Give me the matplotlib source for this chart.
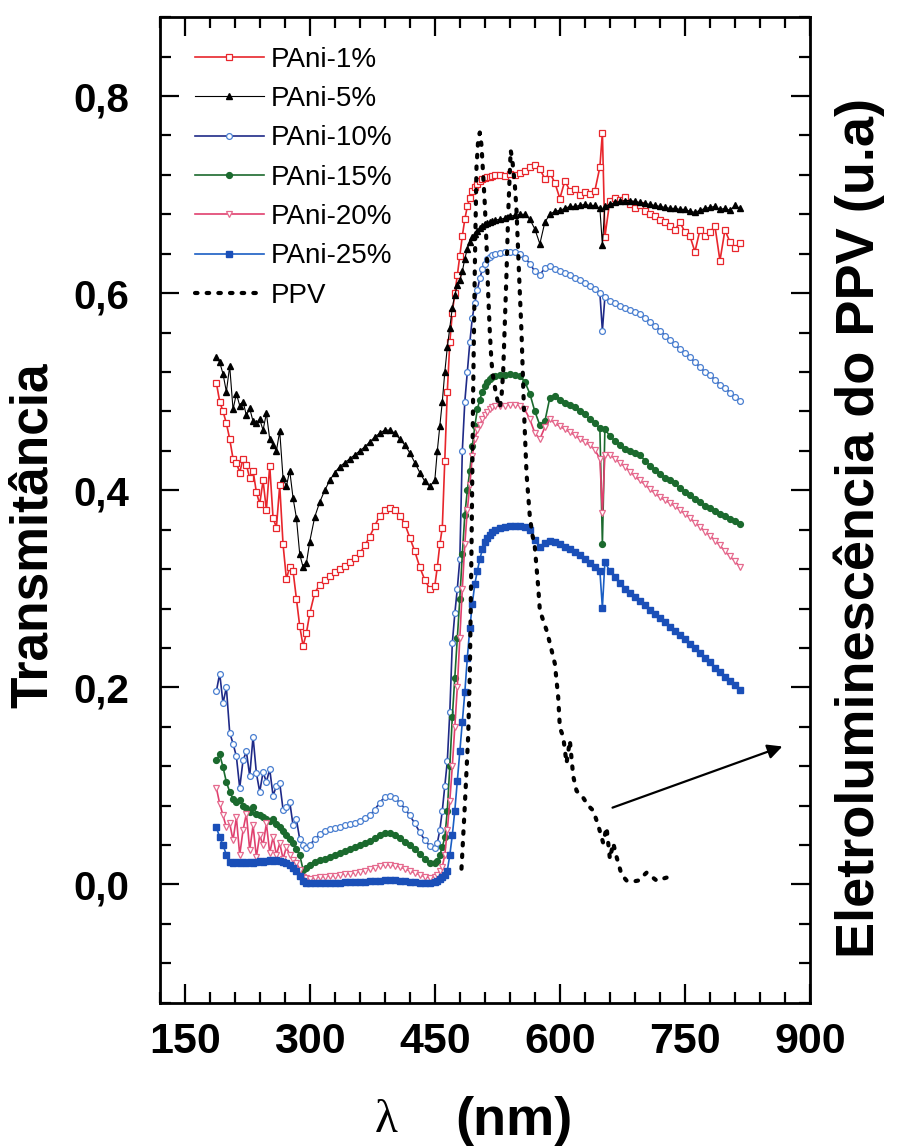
import matplotlib
matplotlib.use('Agg')
import matplotlib.pyplot as plt
from matplotlib.ticker import MultipleLocator, FuncFormatter

plt.rcParams['font.family'] = ['Liberation Sans', 'DejaVu Sans']

# comprimento de onda (nm), grade comum das amostras de PAni
wl = [188, 192, 196, 200, 204, 208, 212, 216, 220, 224, 228, 232, 236, 240,
      244, 248, 252, 256, 260, 264, 268, 272, 276, 280, 284, 288, 292, 296,
      300, 306, 312, 318, 324, 330, 336, 342, 348, 354, 360, 366, 372, 378,
      384, 390, 396, 402, 408, 414, 420, 426, 432, 438, 444, 450,
      453, 456, 459, 462, 465, 468, 471, 474, 477, 480, 483, 486, 489, 492,
      495, 498, 501, 504, 507, 510, 513, 516, 519,
      522, 528, 534, 540, 546, 552, 558, 564, 570, 576, 582, 588, 594, 600,
      606, 612, 618, 624, 630, 636, 642, 648, 651, 654, 660, 666, 672, 678,
      684, 690, 696, 702, 708, 714, 720, 726, 732, 738, 744, 750, 756, 762,
      768, 774, 780, 786, 792, 798, 804, 810, 816]

pani_1 = [0.509, 0.490, 0.480, 0.468, 0.452, 0.432, 0.428, 0.418, 0.432, 0.426, 0.412, 0.420, 0.398, 0.386,
          0.410, 0.380, 0.425, 0.372, 0.362, 0.405, 0.345, 0.310, 0.322, 0.318, 0.290, 0.262, 0.242, 0.255,
          0.275, 0.296, 0.304, 0.309, 0.313, 0.317, 0.320, 0.323, 0.327, 0.331, 0.336, 0.344, 0.353, 0.364,
          0.374, 0.380, 0.382, 0.380, 0.374, 0.366, 0.352, 0.338, 0.322, 0.309, 0.300, 0.303,
          0.322, 0.345, 0.362, 0.430, 0.500, 0.550, 0.580, 0.600, 0.618, 0.638, 0.658, 0.675, 0.688, 0.697,
          0.704, 0.708, 0.711, 0.714, 0.716, 0.717, 0.718, 0.718, 0.719,
          0.720, 0.720, 0.719, 0.721, 0.720, 0.722, 0.724, 0.728, 0.730, 0.726, 0.716, 0.722, 0.712, 0.696,
          0.714, 0.704, 0.706, 0.700, 0.703, 0.701, 0.704, 0.728, 0.763, 0.657, 0.694, 0.697, 0.695, 0.698,
          0.690, 0.686, 0.689, 0.683, 0.680, 0.678, 0.674, 0.672, 0.668, 0.664, 0.672, 0.662, 0.658, 0.642,
          0.664, 0.658, 0.662, 0.668, 0.633, 0.664, 0.652, 0.646, 0.651]

pani_5 = [0.535, 0.530, 0.518, 0.500, 0.526, 0.482, 0.498, 0.486, 0.490, 0.476, 0.483, 0.470, 0.468, 0.472,
          0.461, 0.478, 0.452, 0.446, 0.440, 0.460, 0.412, 0.404, 0.420, 0.392, 0.372, 0.335, 0.322, 0.326,
          0.348, 0.373, 0.388, 0.400, 0.410, 0.418, 0.424, 0.428, 0.432, 0.436, 0.440, 0.444, 0.449, 0.454,
          0.458, 0.461, 0.461, 0.458, 0.452, 0.446, 0.438, 0.428, 0.418, 0.409, 0.404, 0.410,
          0.440, 0.465, 0.490, 0.520, 0.545, 0.565, 0.585, 0.598, 0.608, 0.613, 0.622, 0.635, 0.645, 0.652,
          0.657, 0.660, 0.663, 0.666, 0.668, 0.670, 0.671, 0.672, 0.673,
          0.674, 0.675, 0.676, 0.678, 0.679, 0.680, 0.680, 0.675, 0.665, 0.650, 0.672, 0.680, 0.683, 0.684,
          0.686, 0.688, 0.688, 0.689, 0.690, 0.689, 0.689, 0.686, 0.649, 0.688, 0.690, 0.692, 0.693, 0.694,
          0.694, 0.693, 0.692, 0.691, 0.690, 0.689, 0.688, 0.687, 0.686, 0.686, 0.685, 0.685, 0.683, 0.682,
          0.684, 0.686, 0.687, 0.688, 0.685, 0.686, 0.684, 0.689, 0.686]

pani_10 = [0.196, 0.214, 0.184, 0.200, 0.154, 0.143, 0.130, 0.098, 0.126, 0.135, 0.110, 0.150, 0.113, 0.094,
           0.114, 0.104, 0.117, 0.090, 0.100, 0.103, 0.076, 0.079, 0.084, 0.060, 0.066, 0.046, 0.040, 0.037,
           0.040, 0.046, 0.051, 0.054, 0.056, 0.057, 0.058, 0.060, 0.061, 0.062, 0.064, 0.067, 0.070, 0.076,
           0.083, 0.089, 0.090, 0.088, 0.083, 0.077, 0.070, 0.062, 0.053, 0.045, 0.039, 0.037,
           0.042, 0.055, 0.075, 0.100, 0.125, 0.175, 0.245, 0.275, 0.300, 0.330, 0.440, 0.490, 0.520, 0.550,
           0.575, 0.590, 0.603, 0.615, 0.624, 0.630, 0.635, 0.637, 0.639,
           0.640, 0.641, 0.642, 0.642, 0.642, 0.640, 0.636, 0.630, 0.622, 0.618, 0.626, 0.628, 0.625, 0.622,
           0.620, 0.618, 0.615, 0.613, 0.610, 0.607, 0.604, 0.600, 0.562, 0.596, 0.592, 0.590, 0.587, 0.585,
           0.583, 0.581, 0.579, 0.575, 0.571, 0.567, 0.562, 0.557, 0.552, 0.548, 0.543, 0.539, 0.535, 0.530,
           0.525, 0.520, 0.517, 0.512, 0.507, 0.504, 0.499, 0.495, 0.491]

pani_15 = [0.126, 0.132, 0.119, 0.104, 0.094, 0.087, 0.084, 0.086, 0.080, 0.078, 0.074, 0.079, 0.072, 0.070,
           0.068, 0.066, 0.064, 0.066, 0.061, 0.058, 0.054, 0.050, 0.046, 0.042, 0.036, 0.030, 0.015, 0.017,
           0.020, 0.023, 0.025, 0.026, 0.028, 0.030, 0.032, 0.034, 0.036, 0.038, 0.040, 0.042, 0.044, 0.047,
           0.050, 0.052, 0.052, 0.050, 0.047, 0.043, 0.040, 0.036, 0.031, 0.026, 0.022, 0.022,
           0.024, 0.030, 0.038, 0.048, 0.075, 0.120, 0.170, 0.210, 0.250, 0.290, 0.335, 0.375, 0.400, 0.420,
           0.445, 0.465, 0.482, 0.492, 0.500, 0.506, 0.510, 0.513, 0.515,
           0.516, 0.517, 0.517, 0.518, 0.517, 0.516, 0.510, 0.498, 0.480, 0.466, 0.470, 0.494, 0.496, 0.492,
           0.489, 0.487, 0.484, 0.480, 0.477, 0.472, 0.468, 0.463, 0.345, 0.462, 0.455, 0.450, 0.446, 0.442,
           0.440, 0.438, 0.436, 0.430, 0.425, 0.421, 0.417, 0.412, 0.410, 0.407, 0.402, 0.398, 0.395, 0.391,
           0.388, 0.384, 0.382, 0.379, 0.376, 0.374, 0.371, 0.369, 0.366]

pani_20 = [0.098, 0.082, 0.070, 0.058, 0.062, 0.045, 0.068, 0.030, 0.055, 0.072, 0.035, 0.060, 0.028, 0.050,
           0.040, 0.062, 0.032, 0.048, 0.030, 0.042, 0.026, 0.038, 0.030, 0.025, 0.022, 0.015, 0.008, 0.007,
           0.006, 0.007, 0.008, 0.008, 0.009, 0.009, 0.010, 0.011, 0.011, 0.012, 0.013, 0.014, 0.016, 0.017,
           0.019, 0.020, 0.020, 0.019, 0.018, 0.016, 0.014, 0.012, 0.010, 0.008, 0.007, 0.008,
           0.010, 0.014, 0.018, 0.030, 0.055, 0.085, 0.120, 0.160, 0.200, 0.250, 0.300, 0.345, 0.380, 0.405,
           0.435, 0.452, 0.461, 0.466, 0.472, 0.476, 0.479, 0.482, 0.484,
           0.485, 0.486, 0.486, 0.487, 0.487, 0.486, 0.482, 0.472, 0.458, 0.452, 0.464, 0.472, 0.468, 0.465,
           0.462, 0.459, 0.456, 0.452, 0.449, 0.446, 0.441, 0.432, 0.377, 0.436, 0.436, 0.432, 0.428, 0.424,
           0.419, 0.414, 0.410, 0.406, 0.401, 0.397, 0.393, 0.390, 0.387, 0.384, 0.380, 0.376, 0.372, 0.367,
           0.363, 0.358, 0.354, 0.349, 0.344, 0.338, 0.333, 0.328, 0.322]

pani_25 = [0.058, 0.048, 0.040, 0.030, 0.023, 0.022, 0.023, 0.022, 0.023, 0.022, 0.023, 0.022, 0.023, 0.024,
           0.023, 0.024, 0.025, 0.024, 0.025, 0.024, 0.023, 0.022, 0.020, 0.017, 0.014, 0.009, 0.004, 0.002,
           0.002, 0.002, 0.002, 0.002, 0.002, 0.002, 0.002, 0.003, 0.003, 0.003, 0.003, 0.003, 0.004, 0.004,
           0.004, 0.005, 0.005, 0.005, 0.004, 0.004, 0.003, 0.003, 0.002, 0.002, 0.002, 0.003,
           0.004, 0.006, 0.008, 0.010, 0.014, 0.030, 0.050, 0.075, 0.105, 0.135, 0.165, 0.195, 0.230, 0.260,
           0.285, 0.305, 0.318, 0.330, 0.340, 0.347, 0.352, 0.355, 0.358,
           0.360, 0.362, 0.363, 0.364, 0.364, 0.364, 0.363, 0.360, 0.350, 0.342, 0.346, 0.349, 0.347, 0.345,
           0.342, 0.340, 0.337, 0.334, 0.330, 0.326, 0.322, 0.318, 0.281, 0.327, 0.318, 0.312, 0.306, 0.300,
           0.296, 0.292, 0.288, 0.284, 0.279, 0.274, 0.270, 0.266, 0.261, 0.257, 0.253, 0.249, 0.244, 0.240,
           0.235, 0.230, 0.226, 0.220, 0.216, 0.211, 0.206, 0.202, 0.197]

# eletroluminescencia do PPV (u.a)
ppv_wl = [482, 486, 490, 492, 494, 496, 498, 500, 502, 504, 506, 508, 510, 512, 514, 516, 518, 520,
          523, 526, 528, 530, 532, 534, 536, 538, 541, 543, 546, 548, 551, 554, 557, 560, 564, 567,
          570, 574, 576, 580, 584, 588, 594, 598, 600, 604, 608, 612, 616, 620, 628, 634, 640, 646,
          652, 656, 660, 664, 668, 674, 680, 688, 694, 704, 716, 728]
ppv = [0.016, 0.080, 0.150, 0.214, 0.340, 0.500, 0.626, 0.728, 0.755, 0.763, 0.750, 0.720, 0.690, 0.650,
       0.600, 0.560, 0.530, 0.515, 0.500, 0.488, 0.484, 0.495, 0.520, 0.570, 0.620, 0.680, 0.745, 0.735,
       0.710, 0.684, 0.620, 0.560, 0.480, 0.417, 0.373, 0.355, 0.342, 0.302, 0.278, 0.268, 0.258, 0.245,
       0.224, 0.190, 0.159, 0.150, 0.123, 0.146, 0.110, 0.095, 0.088, 0.080, 0.075, 0.060, 0.042, 0.058,
       0.026, 0.042, 0.028, 0.010, 0.004, 0.003, 0.004, 0.012, 0.004, 0.007]

fig = plt.figure(figsize=(8.97, 11.46), dpi=100)
ax = fig.add_axes([0.178, 0.125, 0.725, 0.86])

ms = 4.2
ax.plot(wl, pani_1, color='#e8262c', lw=1.2, marker='s', ms=ms, mfc='white', mec='#e8262c', mew=0.9, label='PAni-1%')
ax.plot(wl, pani_5, color='black', lw=0.8, marker='^', ms=ms, mfc='black', mec='black', label='PAni-5%')
ax.plot(wl, pani_10, color='#1f2a88', lw=1.2, marker='o', ms=ms, mfc='white', mec='#4a7fd0', mew=0.9, label='PAni-10%')
ax.plot(wl, pani_15, color='#1b6a2e', lw=1.2, marker='o', ms=ms, mfc='#1b6a2e', mec='#1b6a2e', label='PAni-15%')
ax.plot(wl, pani_20, color='#e0406e', lw=1.2, marker='v', ms=ms, mfc='white', mec='#e56a8e', mew=0.9, label='PAni-20%')
ax.plot(wl, pani_25, color='#1a5ec4', lw=1.2, marker='s', ms=ms, mfc='#1a4fb8', mec='#1a4fb8', label='PAni-25%')
ax.plot(ppv_wl, ppv, color='black', lw=3, linestyle=(0, (0.6, 2.2)), dash_capstyle='round', label='PPV')

ax.annotate('', xy=(870, 0.141), xytext=(660, 0.077),
            arrowprops=dict(arrowstyle='-|>', color='black', lw=1.6, mutation_scale=22))

ax.set_xlim(120, 900)
ax.set_ylim(-0.12, 0.88)
ax.xaxis.set_major_locator(MultipleLocator(150))
ax.xaxis.set_minor_locator(MultipleLocator(30))
ax.yaxis.set_major_locator(MultipleLocator(0.2))
ax.yaxis.set_minor_locator(MultipleLocator(0.04))
ax.yaxis.set_major_formatter(FuncFormatter(lambda v, p: ('%.1f' % v).replace('.', ',')))

ax.tick_params(which='both', direction='in', top=True, right=True, width=1.6)
ax.tick_params(which='major', length=14)
ax.tick_params(which='minor', length=8)
ax.tick_params(axis='x', pad=14)
ax.tick_params(axis='y', pad=22)
for s in ax.spines.values():
    s.set_linewidth(2)

for t in ax.get_xticklabels():
    t.set_fontsize(31)
    t.set_fontweight('bold')
for t in ax.get_yticklabels():
    t.set_fontsize(29)
    t.set_fontweight('bold')

leg = ax.legend(loc='upper left', bbox_to_anchor=(0.028, 0.987), frameon=False, fontsize=20,
                handlelength=2.5, handletextpad=0.25, labelspacing=0.48, borderaxespad=0.2)

fig.text(0.037, 0.533, 'Transmitância', rotation=90, ha='center', va='center',
         fontsize=37, fontweight='bold')
fig.text(0.958, 0.539, 'Eletroluminescência do PPV (u.a)', rotation=90, ha='center', va='center',
         fontsize=39, fontweight='bold')
fig.text(0.430, 0.022, 'λ', ha='center', va='center', fontsize=34, family=['Liberation Serif', 'DejaVu Serif'])
fig.text(0.573, 0.022, '(nm)', ha='center', va='center', fontsize=39, fontweight='bold')

fig.savefig('out.png', dpi=100)
